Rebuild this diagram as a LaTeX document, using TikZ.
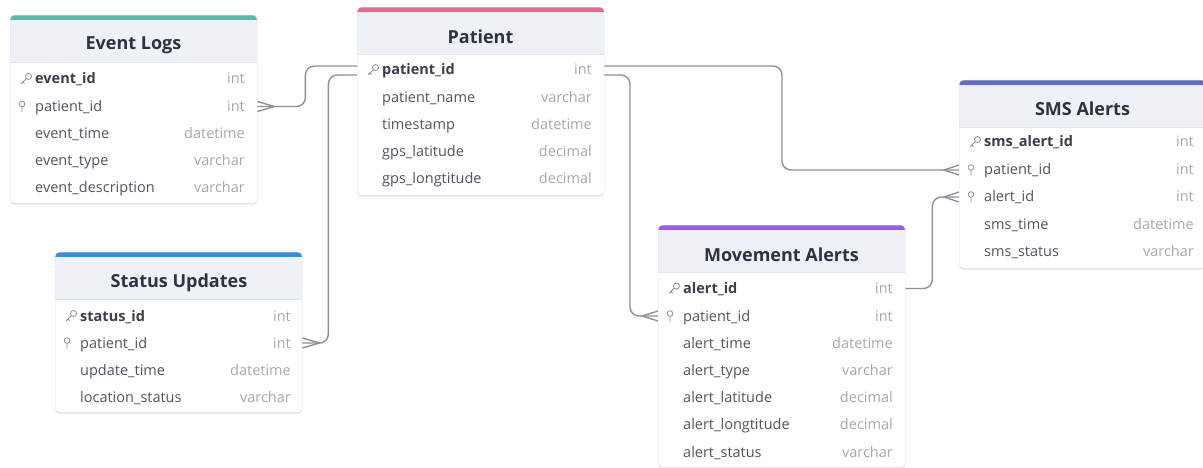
\documentclass[tikz,border=0pt]{standalone}
\usepackage{fontspec}
\setmainfont{Open Sans}
\usetikzlibrary{calc, shadows}
\definecolor{frameline}{HTML}{E2E6EC}
\definecolor{hdrfill}{HTML}{EEF2F7}
\definecolor{ttlcol}{HTML}{2D3340}
\definecolor{pkcol}{HTML}{3A3F4B}
\definecolor{fldcol}{HTML}{4F5562}
\definecolor{typcol}{HTML}{A3A9B3}
\definecolor{relcol}{HTML}{8C9099}
\definecolor{evtbar}{HTML}{4FBFA8}
\definecolor{patbar}{HTML}{EC688C}
\definecolor{smsbar}{HTML}{5E6AD2}
\definecolor{movbar}{HTML}{9B5CE6}
\definecolor{stabar}{HTML}{368EDE}

\begin{document}
\begin{tikzpicture}[x=1pt, y=-1pt,
    tbl/.style={draw=frameline, fill=white, rounded corners=4pt, anchor=north west,
        minimum width=247pt, inner sep=0pt,
        drop shadow={shadow xshift=0pt, shadow yshift=-1.5pt, opacity=0.10, fill=black},
        path picture={
            \fill[hdrfill, sharp corners] (path picture bounding box.north west)
                rectangle ([yshift=-47pt]path picture bounding box.north east);
            \draw[frameline, sharp corners] ([yshift=-47pt]path picture bounding box.north west)
                -- ([yshift=-47pt]path picture bounding box.north east);
            \fill[#1, sharp corners] (path picture bounding box.north west)
                rectangle ([yshift=-5pt]path picture bounding box.north east);
        }},
    ttl/.style={yshift=-1.5pt, font=\fontsize{18}{20}\selectfont\bfseries, text=ttlcol},
    fld/.style={anchor=west, inner sep=0pt, text height=13pt, text depth=3pt,
        font=\fontsize{14.5}{16}\selectfont, text=fldcol},
    pkfld/.style={fld, font=\fontsize{14.5}{16}\selectfont\bfseries, text=pkcol},
    typ/.style={anchor=east, inner sep=0pt, text height=13pt, text depth=3pt,
        font=\fontsize{14.5}{16}\selectfont, text=typcol},
    rel/.style={draw=relcol, line width=1.4pt, rounded corners=9pt},
    foot/.style={draw=relcol, line width=1.4pt},
    pkey/.pic={\draw[relcol, line width=0.8pt] (2.5,-2.5) circle (3pt) (0.4,-0.4) -- (-5,5) (-3,3) -- (-1.5,4.5);},
    fkey/.pic={\draw[relcol, line width=0.8pt] (0,-2.5) circle (2.8pt) (0,0.3) -- (0,5.5);}
]
\useasboundingbox (0,0) rectangle (1203,468);

% tables
\node[tbl=evtbar, minimum height=188pt] (evt) at (10,15) {};
\node[tbl=patbar, minimum height=188pt] (pat) at (357,7) {};
\node[tbl=smsbar, minimum height=188pt] (sms) at (959,80) {};
\node[tbl=movbar, minimum height=242pt] (mov) at (658,225) {};
\node[tbl=stabar, minimum height=160pt] (sta) at (55,252) {};

% Event Logs
\node[ttl] (evt-t) at (133.5,44) {Event Logs};
\pic at (26,79) {pkey};
\node[pkfld] (evt1) at (35,79) {event\_id};         \node[typ] at (245,79) {int};
\pic at (22,106.5) {fkey};
\node[fld] (evt2) at (35,106.5) {patient\_id};      \node[typ] at (245,106.5) {int};
\node[fld] (evt3) at (35,134) {event\_time};        \node[typ] at (245,134) {datetime};
\node[fld] (evt4) at (35,161) {event\_type};        \node[typ] at (245,161) {varchar};
\node[fld] (evt5) at (35,188) {event\_description}; \node[typ] at (245,188) {varchar};

% Patient
\node[ttl] (pat-t) at (480.5,35) {Patient};
\pic at (373,70) {pkey};
\node[pkfld] (pat1) at (382,70) {patient\_id};      \node[typ] at (592,70) {int};
\node[fld] (pat2) at (382,97.5) {patient\_name};    \node[typ] at (592,97.5) {varchar};
\node[fld] (pat3) at (382,124.5) {timestamp};       \node[typ] at (592,124.5) {datetime};
\node[fld] (pat4) at (382,151.5) {gps\_latitude};   \node[typ] at (592,151.5) {decimal};
\node[fld] (pat5) at (382,179) {gps\_longtitude};   \node[typ] at (592,179) {decimal};

% SMS Alerts
\node[ttl] (sms-t) at (1082.5,107.5) {SMS Alerts};
\pic at (975,142) {pkey};
\node[pkfld] (sms1) at (984,142) {sms\_alert\_id};  \node[typ] at (1194,142) {int};
\pic at (971,170) {fkey};
\node[fld] (sms2) at (984,170) {patient\_id};       \node[typ] at (1194,170) {int};
\pic at (971,197) {fkey};
\node[fld] (sms3) at (984,197) {alert\_id};         \node[typ] at (1194,197) {int};
\node[fld] (sms4) at (984,224.5) {sms\_time};       \node[typ] at (1194,224.5) {datetime};
\node[fld] (sms5) at (984,251.5) {sms\_status};     \node[typ] at (1194,251.5) {varchar};

% Movement Alerts
\node[ttl] (mov-t) at (781.5,253) {Movement Alerts};
\pic at (674,288.5) {pkey};
\node[pkfld] (mov1) at (683,288.5) {alert\_id};     \node[typ] at (893,288.5) {int};
\pic at (670,316) {fkey};
\node[fld] (mov2) at (683,316) {patient\_id};       \node[typ] at (893,316) {int};
\node[fld] (mov3) at (683,343) {alert\_time};       \node[typ] at (893,343) {datetime};
\node[fld] (mov4) at (683,370.5) {alert\_type};     \node[typ] at (893,370.5) {varchar};
\node[fld] (mov5) at (683,397.5) {alert\_latitude}; \node[typ] at (893,397.5) {decimal};
\node[fld] (mov6) at (683,424.5) {alert\_longtitude}; \node[typ] at (893,424.5) {decimal};
\node[fld] (mov7) at (683,452) {alert\_status};     \node[typ] at (893,452) {varchar};

% Status Updates
\node[ttl] (sta-t) at (179,281) {Status Updates};
\pic at (71,316) {pkey};
\node[pkfld] (sta1) at (80,316) {status\_id};       \node[typ] at (291,316) {int};
\pic at (67,343) {fkey};
\node[fld] (sta2) at (80,343) {patient\_id};        \node[typ] at (291,343) {int};
\node[fld] (sta3) at (80,370) {update\_time};       \node[typ] at (291,370) {datetime};
\node[fld] (sta4) at (80,397.5) {location\_status}; \node[typ] at (291,397.5) {varchar};

% relations
\draw[rel] (evt.east |- evt2) -- ++(48,0) |- ([yshift=4pt]pat.west |- pat1);
\draw[rel] (sta.east |- sta2) -- ++(26,0) |- ([yshift=-5pt]pat.west |- pat1);
\draw[rel] ([yshift=4pt]pat.east |- pat1) -| ([xshift=-177pt]sms.west |- sms2) -- (sms.west |- sms2);
\draw[rel] ([yshift=-5pt]pat.east |- pat1) -| ([xshift=-28pt]mov.west |- mov2) -- (mov.west |- mov2);
\draw[rel] (mov.east |- mov1) -- ++(27,0) |- (sms.west |- sms3);

% crow's feet
\draw[foot] ([yshift=5pt]evt.east |- evt2) -- ++(17,5) -- ++(-17,5);
\draw[foot] ([yshift=5pt]sta.east |- sta2) -- ++(17,5) -- ++(-17,5);
\draw[foot] ([yshift=5pt]mov.west |- mov2) -- ++(-16,5) -- ++(16,5);
\draw[foot] ([yshift=5pt]sms.west |- sms2) -- ++(-15,5) -- ++(15,5);
\draw[foot] ([yshift=5pt]sms.west |- sms3) -- ++(-15,5) -- ++(15,5);
\end{tikzpicture}
\end{document}
